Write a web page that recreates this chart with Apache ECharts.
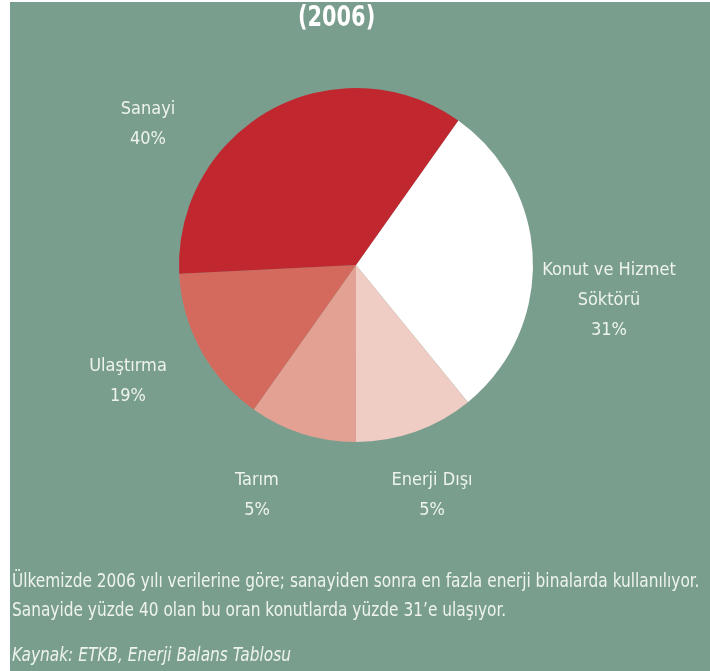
<!DOCTYPE html>
<html>
<head>
<meta charset="utf-8">
<script src="https://cdn.jsdelivr.net/npm/echarts@6/dist/echarts.min.js"></script>
<style>
  html, body { margin: 0; padding: 0; background: #ffffff; }
  #chart { position: absolute; left: 10px; top: 2px; width: 700px; height: 669px; background: #7a9e8e; }
</style>
</head>
<body>
<div id="chart"></div>
<script>
// ===== 数据 =====
const sliceNames = ['Konut ve Hizmet\nSöktörü', 'Enerji Dışı', 'Tarım', 'Ulaştırma', 'Sanayi'];
const sliceShares = [29.3, 10.9, 9.8, 14.4, 35.6];   // as drawn in the picture
const labelPercents = [31, 5, 5, 19, 40];            // as printed on the labels
const titleText = '(2006)';
const noteLines = [
  'Ülkemizde 2006 yılı verilerine göre; sanayiden sonra en fazla enerji binalarda kullanılıyor.',
  'Sanayide yüzde 40 olan bu oran konutlarda yüzde 31\u2019e ulaşıyor.'
];
const sourceText = 'Kaynak: ETKB, Enerji Balans Tablosu';

// ===== 样式 =====
const FONT = '"Liberation Sans Narrow", "DejaVu Sans Condensed", "Roboto", sans-serif';
const TEXT = '#eef3ee';
const sliceColors = ['#ffffff', '#f0cdc4', '#e3a194', '#d46a5e', '#c1272f'];
// label centres in page pixels (the chart box sits at 10,2)
const labelPos = [[609, 300], [432, 495], [257, 495], [128, 381], [148, 124]];

const chart = echarts.init(document.getElementById('chart'), null, { renderer: 'canvas' });

chart.setOption({
  animation: false,
  backgroundColor: '#7a9e8e',
  graphic: [
    {
      type: 'text', x: 288, y: 2, scaleX: 0.8,
      style: { text: titleText, fill: '#ffffff', font: 'bold 29px ' + FONT }
    },
    {
      type: 'text', x: 2, y: 566, scaleX: 0.9,
      style: { text: noteLines.join('\n'), fill: TEXT, font: '19px ' + FONT, lineHeight: 29 }
    },
    {
      type: 'text', x: 2, y: 645, scaleX: 0.9,
      style: { text: sourceText, fill: TEXT, font: 'italic 19px ' + FONT }
    }
  ],
  series: [{
    type: 'pie',
    silent: true,
    center: [346, 263],
    radius: [0, 177],
    startAngle: 54.7,
    clockwise: true,
    itemStyle: { borderWidth: 0 },
    labelLine: { show: false },
    label: {
      show: true,
      position: 'outside',
      color: TEXT,
      fontFamily: FONT,
      fontSize: 18,
      lineHeight: 30,
      align: 'center',
      overflow: 'none',
      formatter: function (p) {
        return p.name + '\n' + labelPercents[p.dataIndex] + '%';
      }
    },
    labelLayout: function (p) {
      const pos = labelPos[p.dataIndex];
      return { x: pos[0] - 10, y: pos[1] - 2, align: 'center', verticalAlign: 'middle', hideOverlap: false };
    },
    data: sliceNames.map(function (n, i) {
      return { name: n, value: sliceShares[i], itemStyle: { color: sliceColors[i] } };
    })
  }]
});
</script>
</body>
</html>
